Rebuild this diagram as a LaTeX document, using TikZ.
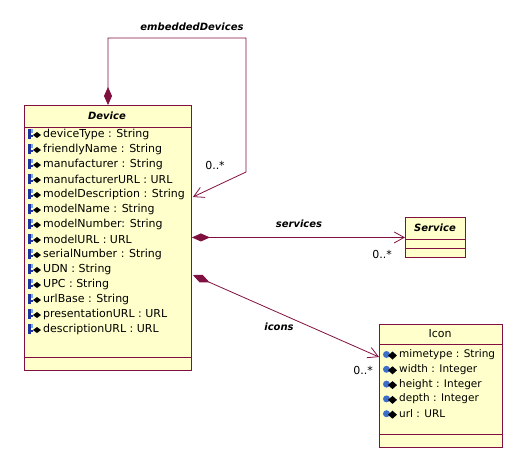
\documentclass[tikz,border=0pt]{standalone}
\usepackage{fontspec}
\setmainfont{DejaVu Sans}
\usetikzlibrary{arrows.meta,calc}
\definecolor{umlline}{RGB}{128,16,64}
\definecolor{umlfill}{RGB}{255,255,204}
\definecolor{keyblue}{RGB}{30,50,160}
\definecolor{keylight}{RGB}{120,170,230}
\definecolor{globeblue}{RGB}{60,110,200}
\begin{document}
\begin{tikzpicture}[x=1pt,y=-1pt,
  classbox/.style={draw=umlline,fill=umlfill,line width=0.9pt,anchor=north west,inner sep=0pt},
  sep/.style={draw=umlline,line width=0.9pt},
  ctitle/.style={font=\fontsize{10}{12}\selectfont\bfseries\itshape,inner sep=0pt},
  ititle/.style={font=\fontsize{11}{13}\selectfont,inner sep=0pt},
  attr/.style={font=\fontsize{11}{13}\selectfont,anchor=west,inner sep=0pt},
  iattr/.style={font=\fontsize{10.5}{12}\selectfont,anchor=west,inner sep=0pt},
  rolelabel/.style={font=\fontsize{10}{12}\selectfont\bfseries\itshape,inner sep=0pt},
  mult/.style={font=\fontsize{11}{13}\selectfont,inner sep=0pt},
  assoc/.style={draw=umlline,line width=0.8pt,
    {Diamond[length=18pt,width=8pt,fill=umlline]}-{Straight Barb[length=10pt,width=11pt,line width=0.8pt]}}
]
\useasboundingbox (0,0) rectangle (527,469);
\fill[white] (0,0) rectangle (527,469);

% Device class
\node[classbox,minimum width=167pt,minimum height=265pt] (dev) at (24,105) {};
\node[ctitle] (devt) at (107,116) {Device};
\draw[sep] ($(dev.north west)+(0,22)$) -- ($(dev.north east)+(0,22)$);
\draw[sep] ($(dev.north west)+(0,252)$) -- ($(dev.north east)+(0,252)$);
\foreach \t [count=\i] in {deviceType : String,friendlyName : String,manufacturer : String,manufacturerURL : URL,modelDescription : String,modelName : String,modelNumber: String,modelURL : URL,serialNumber : String,UDN : String,UPC : String,urlBase : String,presentationURL : URL,descriptionURL : URL}{
  \pgfmathsetmacro\yy{134+15*(\i-1)}
  \fill[keyblue] (28,\yy-5) rectangle (30.5,\yy+5);
  \fill[keylight] (30.5,\yy-5) rectangle (33,\yy-1.5);
  \fill[keyblue] (30.5,\yy+1) rectangle (32.5,\yy+3);
  \fill[black] (33,\yy+1) -- (37,\yy-2) -- (41,\yy+1) -- (37,\yy+4) -- cycle;
  \node[attr] (da\i) at (43,\yy) {\t};
}

% Service class
\node[classbox,minimum width=60pt,minimum height=40pt] (svc) at (405,217) {};
\node[ctitle] (svct) at (435,228) {Service};
\draw[sep] ($(svc.north west)+(0,22)$) -- ($(svc.north east)+(0,22)$);
\draw[sep] ($(svc.north west)+(0,31)$) -- ($(svc.north east)+(0,31)$);

% Icon class
\node[classbox,minimum width=123pt,minimum height=123pt] (icon) at (379,324) {};
\node[ititle] (icont) at (440,334) {Icon};
\draw[sep] ($(icon.north west)+(0,20)$) -- ($(icon.north east)+(0,20)$);
\draw[sep] ($(icon.north west)+(0,110)$) -- ($(icon.north east)+(0,110)$);
\foreach \t [count=\i] in {mimetype : String,width : Integer,height : Integer,depth : Integer,url : URL}{
  \pgfmathsetmacro\yy{354.5+14.8*(\i-1)}
  \fill[globeblue] (386.5,\yy) circle (3.5pt);
  \fill[black] (388,\yy+1) -- (392.5,\yy-3) -- (397,\yy+1) -- (392.5,\yy+5) -- cycle;
  \node[iattr] (ia\i) at (399,\yy) {\t};
}

% embeddedDevices self association
\coordinate (ea) at (108,38);
\coordinate (eb) at (246,38);
\coordinate (ec) at (246,172);
\draw[assoc] ($(dev.north west)+(84,0)$) -- (ea) -- (eb) -- (ec) -- ($(dev.north east)+(1,92)$);
\node[rolelabel] (lemb) at (192,27) {embeddedDevices};
\node[mult] (memb) at (215,165) {0..*};

% services association
\draw[assoc] (svc.west -| dev.east) -- (svc.west);
\node[rolelabel] (lsvc) at (299,224) {services};
\node[mult] (msvc) at (382,254) {0..*};

% icons association
\draw[assoc] ($(dev.north east)+(1,170)$) -- ($(icon.north west)+(0,33)$);
\node[rolelabel] (licn) at (279,327) {icons};
\node[mult] (micn) at (363,370) {0..*};
\end{tikzpicture}
\end{document}
